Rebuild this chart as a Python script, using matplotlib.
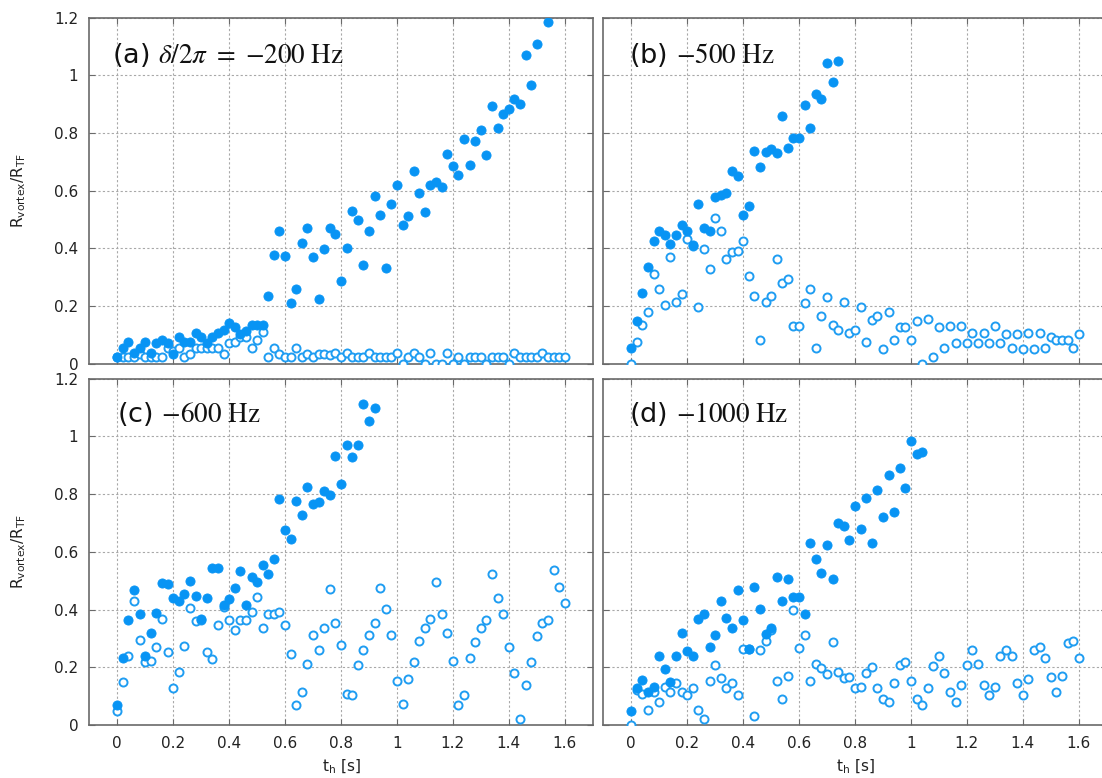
import numpy as np
import matplotlib
matplotlib.use("Agg")
import matplotlib.pyplot as plt

plt.rcParams["font.family"] = ["DejaVu Sans"]
plt.rcParams["mathtext.fontset"] = "stix"

nan = np.nan

# time axis t_h [s]
t_h = [0.00, 0.02, 0.04, 0.06, 0.08, 0.10, 0.12, 0.14, 0.16, 0.18,
       0.20, 0.22, 0.24, 0.26, 0.28, 0.30, 0.32, 0.34, 0.36, 0.38,
       0.40, 0.42, 0.44, 0.46, 0.48, 0.50, 0.52, 0.54, 0.56, 0.58,
       0.60, 0.62, 0.64, 0.66, 0.68, 0.70, 0.72, 0.74, 0.76, 0.78,
       0.80, 0.82, 0.84, 0.86, 0.88, 0.90, 0.92, 0.94, 0.96, 0.98,
       1.00, 1.02, 1.04, 1.06, 1.08, 1.10, 1.12, 1.14, 1.16, 1.18,
       1.20, 1.22, 1.24, 1.26, 1.28, 1.30, 1.32, 1.34, 1.36, 1.38,
       1.40, 1.42, 1.44, 1.46, 1.48, 1.50, 1.52, 1.54, 1.56, 1.58,
       1.60]

# (a) -200 Hz
a_filled = [0.025, 0.057, 0.076, 0.037, 0.054, 0.075, 0.037, 0.072, 0.083, 0.073,
            0.036, 0.094, 0.075, 0.076, 0.106, 0.094, 0.073, 0.095, 0.106, 0.118,
            0.141, 0.129, 0.105, 0.114, 0.134, 0.134, 0.134, 0.236, 0.377, 0.461,
            0.373, 0.210, 0.261, 0.420, 0.470, 0.369, 0.225, 0.397, 0.470, 0.451,
            0.289, 0.401, 0.531, 0.497, 0.343, 0.459, 0.582, 0.515, 0.333, 0.553,
            0.619, 0.481, 0.511, 0.667, 0.592, 0.528, 0.619, 0.632, 0.612, 0.728,
            0.684, 0.654, 0.779, 0.690, 0.774, 0.811, 0.723, 0.894, 0.816, 0.865,
            0.883, 0.917, 0.902, 1.071, 0.966, 1.108, nan, 1.183]
a_open = [0.025, 0.025, 0.025, 0.025, 0.036, 0.025, 0.025, 0.025, 0.025, 0.054,
          0.045, 0.057, 0.025, 0.036, 0.057, 0.057, 0.054, 0.057, 0.054, 0.036,
          0.074, 0.076, 0.095, 0.092, 0.057, 0.083, 0.110, 0.025, 0.057, 0.036,
          0.025, 0.025, 0.057, 0.025, 0.036, 0.025, 0.036, 0.036, 0.030, 0.037,
          0.025, 0.037, 0.025, 0.025, 0.025, 0.037, 0.025, 0.025, 0.025, 0.025,
          0.037, 0.000, 0.025, 0.037, 0.025, 0.000, 0.037, 0.000, 0.000, 0.037,
          0.000, 0.025, 0.000, 0.025, 0.025, 0.025, 0.000, 0.025, 0.025, 0.025,
          0.000, 0.037, 0.025, 0.025, 0.025, 0.025, 0.037, 0.025, 0.025, 0.025,
          0.025]

# (b) -500 Hz
b_filled = [0.054, 0.149, 0.247, 0.337, 0.425, 0.460, 0.446, 0.416, 0.446, 0.483,
            0.460, 0.412, 0.555, 0.470, 0.460, 0.577, 0.585, 0.592, 0.667, 0.652,
            0.516, 0.548, 0.736, 0.681, 0.735, 0.744, 0.730, 0.860, 0.749, 0.782,
            0.782, 0.898, 0.817, 0.935, 0.917, 1.042, 0.977, 1.049]
b_open = [0.000, 0.075, 0.134, 0.180, 0.311, 0.259, 0.204, 0.369, 0.214, 0.244,
          0.432, 0.410, 0.198, 0.399, 0.329, 0.507, 0.460, 0.362, 0.389, 0.393,
          0.425, 0.305, 0.235, 0.083, 0.214, 0.235, 0.362, 0.282, 0.295, 0.131,
          0.131, 0.210, 0.259, 0.057, 0.166, 0.231, 0.134, 0.117, 0.214, 0.106,
          0.117, 0.196, 0.076, 0.151, 0.165, 0.053, 0.180, 0.083, 0.129, 0.129,
          0.083, 0.150, 0.000, 0.156, 0.025, 0.129, 0.055, 0.133, 0.072, 0.133,
          0.073, 0.106, 0.072, 0.106, 0.072, 0.133, 0.072, 0.103, 0.055, 0.103,
          0.052, 0.106, 0.053, 0.106, 0.055, 0.092, 0.083, 0.083, 0.083, 0.055,
          0.103]

# (c) -600 Hz
c_filled = [0.070, 0.232, 0.363, 0.467, 0.383, 0.238, 0.317, 0.388, 0.493, 0.489,
            0.441, 0.429, 0.455, 0.499, 0.446, 0.368, 0.441, 0.545, 0.545, 0.417,
            0.435, 0.474, 0.532, 0.417, 0.512, 0.496, 0.555, 0.523, 0.576, 0.783,
            0.675, 0.643, 0.776, 0.728, 0.823, 0.764, 0.771, 0.810, 0.797, 0.933,
            0.834, 0.968, 0.928, 0.968, 1.110, 1.052, 1.099]
c_open = [0.049, 0.148, 0.239, 0.429, 0.293, 0.218, 0.223, 0.270, 0.368, 0.252,
          0.128, 0.182, 0.272, 0.405, 0.359, 0.363, 0.252, 0.228, 0.347, 0.410,
          0.363, 0.330, 0.362, 0.362, 0.392, 0.444, 0.336, 0.383, 0.386, 0.392,
          0.347, 0.246, 0.070, 0.114, 0.211, 0.310, 0.259, 0.336, 0.472, 0.354,
          0.278, 0.107, 0.104, 0.208, 0.259, 0.310, 0.354, 0.474, 0.403, 0.310,
          0.154, 0.073, 0.160, 0.218, 0.292, 0.336, 0.368, 0.495, 0.384, 0.317,
          0.221, 0.070, 0.104, 0.232, 0.289, 0.336, 0.362, 0.522, 0.441, 0.383,
          0.269, 0.181, 0.022, 0.138, 0.218, 0.308, 0.353, 0.362, 0.536, 0.479,
          0.421]

# (d) -1000 Hz
d_filled = [0.050, 0.128, 0.155, 0.114, 0.131, 0.239, 0.195, 0.148, 0.239, 0.320,
            0.256, 0.239, 0.368, 0.385, 0.269, 0.310, 0.428, 0.370, 0.336, 0.468,
            0.364, 0.262, 0.478, 0.403, 0.315, 0.336, 0.512, 0.428, 0.506, 0.445,
            0.445, 0.385, 0.630, 0.576, 0.525, 0.624, 0.506, 0.700, 0.688, 0.641,
            0.758, 0.678, 0.785, 0.630, 0.813, 0.719, 0.867, 0.739, 0.890, 0.822,
            0.982, 0.940, 0.944]
d_open = [0.000, 0.120, 0.107, 0.052, 0.114, 0.079, 0.131, 0.114, 0.144, 0.114,
          0.103, 0.128, 0.052, 0.022, 0.154, 0.208, 0.162, 0.128, 0.147, 0.103,
          0.262, 0.262, 0.032, 0.259, 0.292, 0.328, 0.154, 0.089, 0.170, 0.397,
          0.266, 0.313, 0.154, 0.211, 0.196, 0.177, 0.286, 0.184, 0.162, 0.165,
          0.128, 0.131, 0.181, 0.202, 0.128, 0.090, 0.079, 0.147, 0.208, 0.218,
          0.154, 0.090, 0.068, 0.128, 0.204, 0.238, 0.181, 0.114, 0.079, 0.138,
          0.208, 0.259, 0.211, 0.138, 0.103, 0.131, 0.238, 0.259, 0.238, 0.147,
          0.103, 0.161, 0.259, 0.271, 0.232, 0.165, 0.114, 0.170, 0.285, 0.292,
          0.232]

panel_labels = [r"(a) $\delta/2\pi\ =\ {-}200\ \mathrm{Hz}$",
                r"(b) ${-}500\ \mathrm{Hz}$",
                r"(c) ${-}600\ \mathrm{Hz}$",
                r"(d) ${-}1000\ \mathrm{Hz}$"]
x_ticks = [0, 0.2, 0.4, 0.6, 0.8, 1.0, 1.2, 1.4, 1.6]
x_ticklabels = ["0", "0.2", "0.4", "0.6", "0.8", "1", "1.2", "1.4", "1.6"]
y_ticks = [0, 0.2, 0.4, 0.6, 0.8, 1.0, 1.2]
y_ticklabels = ["0", "0.2", "0.4", "0.6", "0.8", "1", "1.2"]

FILL_C = "#0894F4"
OPEN_C = "#1F9DF2"
FRAME_C = "#6a6a6a"

W, H = 1102, 778
fig = plt.figure(figsize=(W / 100, H / 100), dpi=100)

ax_w = 503.4 / W
ax_h = 346.5 / H
lefts = [89.3 / W, 603.3 / W]
bottoms = [1 - 364 / H, 1 - 725 / H]

series = [(a_filled, a_open), (b_filled, b_open), (c_filled, c_open), (d_filled, d_open)]
label_pos = [(0.045, 0.868), (0.052, 0.868), (0.056, 0.874), (0.052, 0.874)]

for k, (filled, opened) in enumerate(series):
    row, col = divmod(k, 2)
    ax = fig.add_axes([lefts[col], bottoms[row], ax_w, ax_h])

    ax.plot(t_h[:len(opened)], opened, "o", ls="none", ms=5.8, mfc="white",
            mec=OPEN_C, mew=1.4, zorder=3)
    ax.plot(t_h[:len(filled)], filled, "o", ls="none", ms=6.6, mfc=FILL_C,
            mec=FILL_C, mew=0.6, zorder=4)

    ax.set_xlim(-0.1, 1.7)
    ax.set_ylim(0, 1.2)
    ax.set_xticks(x_ticks)
    ax.set_yticks(y_ticks)
    ax.grid(True, color="#a8a8a8", linestyle=(0, (2, 2)), linewidth=0.8)
    ax.set_axisbelow(True)
    ax.tick_params(direction="in", length=4, width=0.8, color=FRAME_C,
                   top=True, right=True, labelsize=11, pad=8, labelcolor="#222222")
    for s in ax.spines.values():
        s.set_color(FRAME_C)
        s.set_linewidth(1.2)

    if row == 1:
        ax.set_xticklabels(x_ticklabels)
    else:
        ax.set_xticklabels([])
    if col == 0:
        ax.set_yticklabels(y_ticklabels)
    else:
        ax.set_yticklabels([])

    ax.text(label_pos[k][0], label_pos[k][1], panel_labels[k], transform=ax.transAxes,
            fontsize=19.5, va="baseline", ha="left", color="#111111")

for row in range(2):
    yc = bottoms[row] + ax_h / 2
    fig.text(19 / W, yc, r"$\mathregular{R_{vortex}/R_{TF}}$", rotation=90,
             ha="center", va="center", fontsize=11, color="#222222")

for col in range(2):
    xc = lefts[col] + ax_w / 2
    fig.text(xc, 1 - 767 / H, r"$\mathregular{t_h}$ [s]", ha="center", va="center",
             fontsize=11, color="#222222")

fig.savefig("out.png", dpi=100)
